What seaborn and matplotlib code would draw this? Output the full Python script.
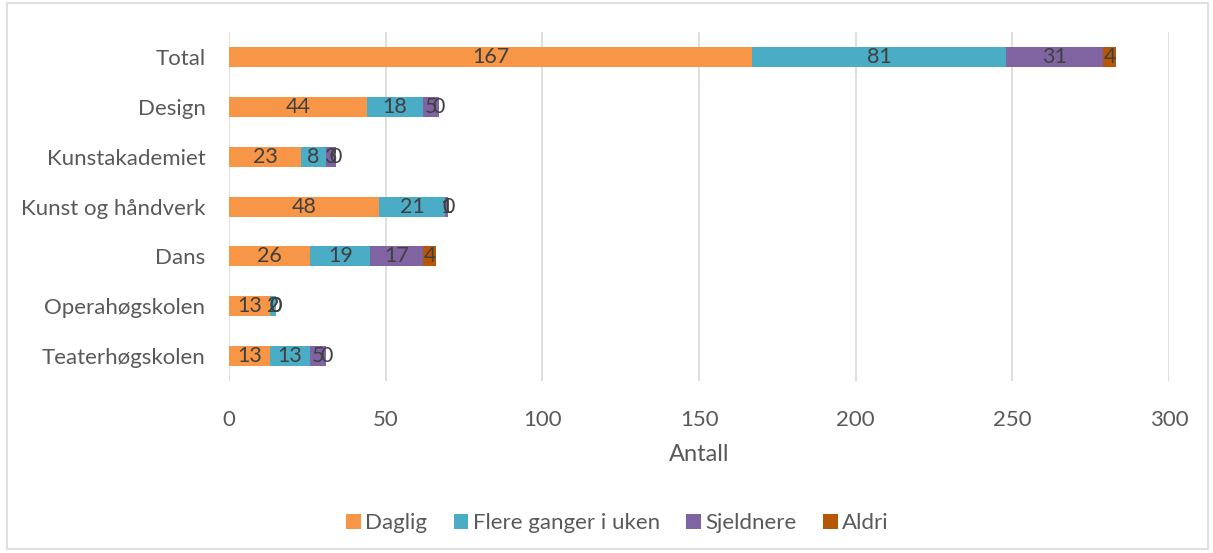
import numpy as np
import pandas as pd
import matplotlib
matplotlib.use("Agg")
import matplotlib.pyplot as plt
import seaborn as sns
from matplotlib.patches import Patch, Rectangle

categories = ["Total", "Design", "Kunstakademiet", "Kunst og håndverk",
              "Dans", "Operahøgskolen", "Teaterhøgskolen"]
daglig = [167, 44, 23, 48, 26, 13, 13]
flere = [81, 18, 8, 21, 19, 2, 13]
sjeldnere = [31, 5, 3, 1, 17, 0, 5]
aldri = [4, 0, 0, 0, 4, 0, 0]

series_names = ["Daglig", "Flere ganger i uken", "Sjeldnere", "Aldri"]
colors = ["#F79646", "#4BACC6", "#8064A2", "#B65708"]

sns.set_style("white")
plt.rcParams["font.family"] = ["Lato", "DejaVu Sans"]

df = pd.DataFrame({"category": categories, "Daglig": daglig,
                   "Flere ganger i uken": flere, "Sjeldnere": sjeldnere,
                   "Aldri": aldri})
vals = df[series_names].to_numpy()
cum = vals.cumsum(axis=1)

fig = plt.figure(figsize=(12.13, 5.53), dpi=100)
ax = fig.add_axes([0.1888, 0.311, 0.775, 0.631])

# draw the stacks from the longest cumulative bar down so every segment shows
for i in range(len(series_names) - 1, -1, -1):
    sns.barplot(x=cum[:, i], y=df["category"], color=colors[i], width=0.4,
                orient="h", linewidth=0, saturation=1, ax=ax)

# data labels in the middle of each segment
for r in range(len(categories)):
    left = 0
    for i in range(len(series_names)):
        v = vals[r, i]
        ax.text(left + v / 2, r, str(v), ha="center", va="center",
                fontsize=15.5, color="#404040")
        left += v

ax.set_xlim(0, 300)
ax.set_ylim(6.5, -0.5)
ax.set_xticks(np.arange(0, 301, 50))
ax.grid(axis="x", color="#D9D9D9", linewidth=1.2)
ax.set_axisbelow(True)
for s in ax.spines.values():
    s.set_visible(False)
ax.tick_params(axis="x", length=0, pad=21, labelsize=16, labelcolor="#595959")
ax.tick_params(axis="y", length=0, pad=17, labelsize=16, labelcolor="#595959")
ax.set_ylabel("")
ax.set_xlabel("Antall", fontsize=17, color="#595959", labelpad=10)

handles = [Patch(facecolor=c, edgecolor="none") for c in colors]
fig.legend(handles, series_names, loc="center", bbox_to_anchor=(0.509, 0.054),
           ncol=4, frameon=False, fontsize=16, handlelength=0.65,
           handleheight=0.65, handletextpad=0.2, columnspacing=1.2,
           labelcolor="#595959")

fig.add_artist(Rectangle((0.006, 0.008), 0.99, 0.986, transform=fig.transFigure,
                         fill=False, edgecolor="#D9D9D9", linewidth=1.2))

fig.savefig("out.png", dpi=100)
